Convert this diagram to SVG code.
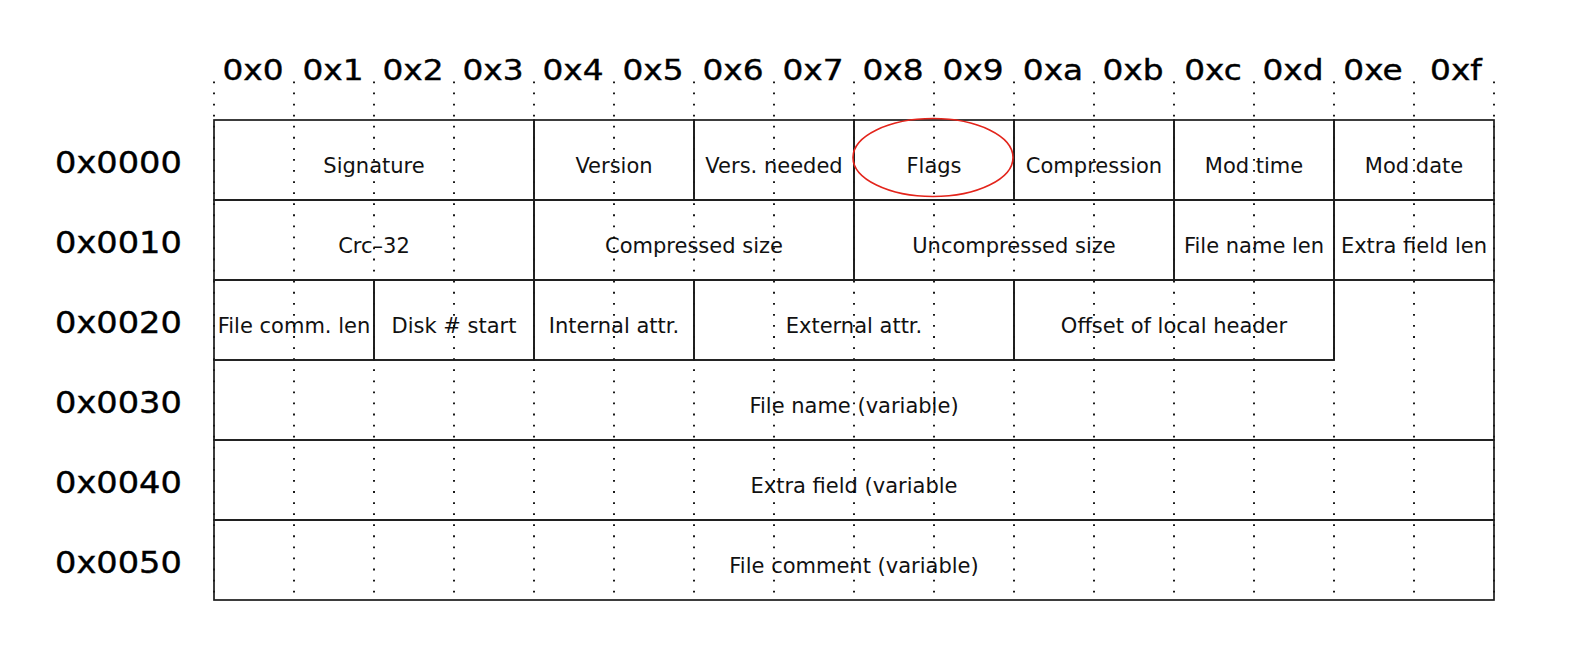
<svg xmlns="http://www.w3.org/2000/svg" width="1588" height="668" viewBox="0 0 1588 668">
  <style>
    .bg { fill: #ffffff; }
    .hdr { font-family: "DejaVu Sans", "Liberation Sans", sans-serif; font-size: 28px; fill: #000; text-anchor: middle; stroke: #000; stroke-width: 0.4; }
    .off { font-family: "DejaVu Sans", "Liberation Sans", sans-serif; font-size: 31px; fill: #000; stroke: #000; stroke-width: 0.4; }
    .cell { fill: none; stroke: #1c1c1c; stroke-width: 1.7; }
    .lbl { font-family: "DejaVu Sans", "Liberation Sans", sans-serif; font-size: 21px; fill: #111; text-anchor: middle; }
    .tick { stroke: #000; stroke-width: 1.8; stroke-dasharray: 1.8 9.27; fill: none; }
    .mark { fill: none; stroke: #e3241b; stroke-width: 1.6; }
  </style>
  <rect class="bg" x="0" y="0" width="1588" height="668"/>

  <!-- byte column headings (glyphs widened horizontally) -->
  <g id="column-headers">
    <text class="hdr" transform="translate(253 80) scale(1.17 1)">0x0</text>
    <text class="hdr" transform="translate(333 80) scale(1.17 1)">0x1</text>
    <text class="hdr" transform="translate(413 80) scale(1.17 1)">0x2</text>
    <text class="hdr" transform="translate(493 80) scale(1.17 1)">0x3</text>
    <text class="hdr" transform="translate(573 80) scale(1.17 1)">0x4</text>
    <text class="hdr" transform="translate(653 80) scale(1.17 1)">0x5</text>
    <text class="hdr" transform="translate(733 80) scale(1.17 1)">0x6</text>
    <text class="hdr" transform="translate(813 80) scale(1.17 1)">0x7</text>
    <text class="hdr" transform="translate(893 80) scale(1.17 1)">0x8</text>
    <text class="hdr" transform="translate(973 80) scale(1.17 1)">0x9</text>
    <text class="hdr" transform="translate(1053 80) scale(1.17 1)">0xa</text>
    <text class="hdr" transform="translate(1133 80) scale(1.17 1)">0xb</text>
    <text class="hdr" transform="translate(1213 80) scale(1.17 1)">0xc</text>
    <text class="hdr" transform="translate(1293 80) scale(1.17 1)">0xd</text>
    <text class="hdr" transform="translate(1373 80) scale(1.17 1)">0xe</text>
    <text class="hdr" transform="translate(1456 80) scale(1.17 1)">0xf</text>
  </g>

  <!-- row offsets -->
  <g id="row-offsets">
    <text class="off" transform="translate(55 173) scale(1.085 1)">0x0000</text>
    <text class="off" transform="translate(55 253) scale(1.085 1)">0x0010</text>
    <text class="off" transform="translate(55 333) scale(1.085 1)">0x0020</text>
    <text class="off" transform="translate(55 413) scale(1.085 1)">0x0030</text>
    <text class="off" transform="translate(55 493) scale(1.085 1)">0x0040</text>
    <text class="off" transform="translate(55 573) scale(1.085 1)">0x0050</text>
  </g>

  <!-- field labels -->
  <g id="field-labels">
    <text id="t-signature" class="lbl" x="374" y="172.5">Signature</text>
    <text id="t-version" class="lbl" x="614" y="172.5">Version</text>
    <text id="t-vers-needed" class="lbl" x="774" y="172.5">Vers. needed</text>
    <text id="t-flags" class="lbl" x="934" y="172.5">Flags</text>
    <text id="t-compression" class="lbl" x="1094" y="172.5">Compression</text>
    <text id="t-mod-time" class="lbl" x="1254" y="172.5">Mod time</text>
    <text id="t-mod-date" class="lbl" x="1414" y="172.5">Mod date</text>

    <text id="t-crc" class="lbl" x="374" y="252.5">Crc–32</text>
    <text id="t-csize" class="lbl" x="694" y="252.5">Compressed size</text>
    <text id="t-usize" class="lbl" x="1014" y="252.5">Uncompressed size</text>
    <text id="t-fnlen" class="lbl" x="1254" y="252.5">File name len</text>
    <text id="t-eflen" class="lbl" x="1414" y="252.5">Extra field len</text>

    <text id="t-fclen" class="lbl" x="294" y="332.5">File comm. len</text>
    <text id="t-disk" class="lbl" x="454" y="332.5">Disk # start</text>
    <text id="t-iattr" class="lbl" x="614" y="332.5">Internal attr.</text>
    <text id="t-eattr" class="lbl" x="854" y="332.5">External attr.</text>
    <text id="t-offset" class="lbl" x="1174" y="332.5">Offset of local header</text>

    <text id="t-fname" class="lbl" x="854" y="412.5">File name (variable)</text>
    <text id="t-extra" class="lbl" x="854" y="492.5">Extra field (variable</text>
    <text id="t-comment" class="lbl" x="854" y="572.5">File comment (variable)</text>
  </g>

  <!-- dotted byte guides -->
  <g id="connectors">
    <path class="tick" d="M214 81.5V600M294 81.5V600M374 81.5V600M454 81.5V600M534 81.5V600M614 81.5V600M694 81.5V600M774 81.5V600M854 81.5V600M934 81.5V600M1014 81.5V600M1094 81.5V600M1174 81.5V600M1254 81.5V600M1334 81.5V600M1414 81.5V600M1494 81.5V600"/>
  </g>

  <!-- header fields: row 0x0000 -->
  <g id="signature"><rect class="cell" x="214" y="120" width="320" height="80"/></g>
  <g id="version"><rect class="cell" x="534" y="120" width="160" height="80"/></g>
  <g id="vers-needed"><rect class="cell" x="694" y="120" width="160" height="80"/></g>
  <g id="flags"><rect class="cell" x="854" y="120" width="160" height="80"/></g>
  <g id="compression"><rect class="cell" x="1014" y="120" width="160" height="80"/></g>
  <g id="mod-time"><rect class="cell" x="1174" y="120" width="160" height="80"/></g>
  <g id="mod-date"><rect class="cell" x="1334" y="120" width="160" height="80"/></g>

  <!-- row 0x0010 -->
  <g id="crc-32"><rect class="cell" x="214" y="200" width="320" height="80"/></g>
  <g id="compressed-size"><rect class="cell" x="534" y="200" width="320" height="80"/></g>
  <g id="uncompressed-size"><rect class="cell" x="854" y="200" width="320" height="80"/></g>
  <g id="file-name-len"><rect class="cell" x="1174" y="200" width="160" height="80"/></g>
  <g id="extra-field-len"><rect class="cell" x="1334" y="200" width="160" height="80"/></g>

  <!-- row 0x0020 -->
  <g id="file-comm-len"><rect class="cell" x="214" y="280" width="160" height="80"/></g>
  <g id="disk-start"><rect class="cell" x="374" y="280" width="160" height="80"/></g>
  <g id="internal-attr"><rect class="cell" x="534" y="280" width="160" height="80"/></g>
  <g id="external-attr"><rect class="cell" x="694" y="280" width="320" height="80"/></g>
  <g id="offset-local-header"><rect class="cell" x="1014" y="280" width="320" height="80"/></g>

  <!-- variable-length fields (file name starts at 0x2e) -->
  <g id="file-name"><path class="cell" d="M214 360H1334V280H1494V440H214Z"/></g>
  <g id="extra-field"><rect class="cell" x="214" y="440" width="1280" height="80"/></g>
  <g id="file-comment"><rect class="cell" x="214" y="520" width="1280" height="80"/></g>

  <!-- highlight on the flags field -->
  <g id="flags-highlight"><ellipse class="mark" cx="933" cy="157.5" rx="80" ry="39"/></g>
</svg>
